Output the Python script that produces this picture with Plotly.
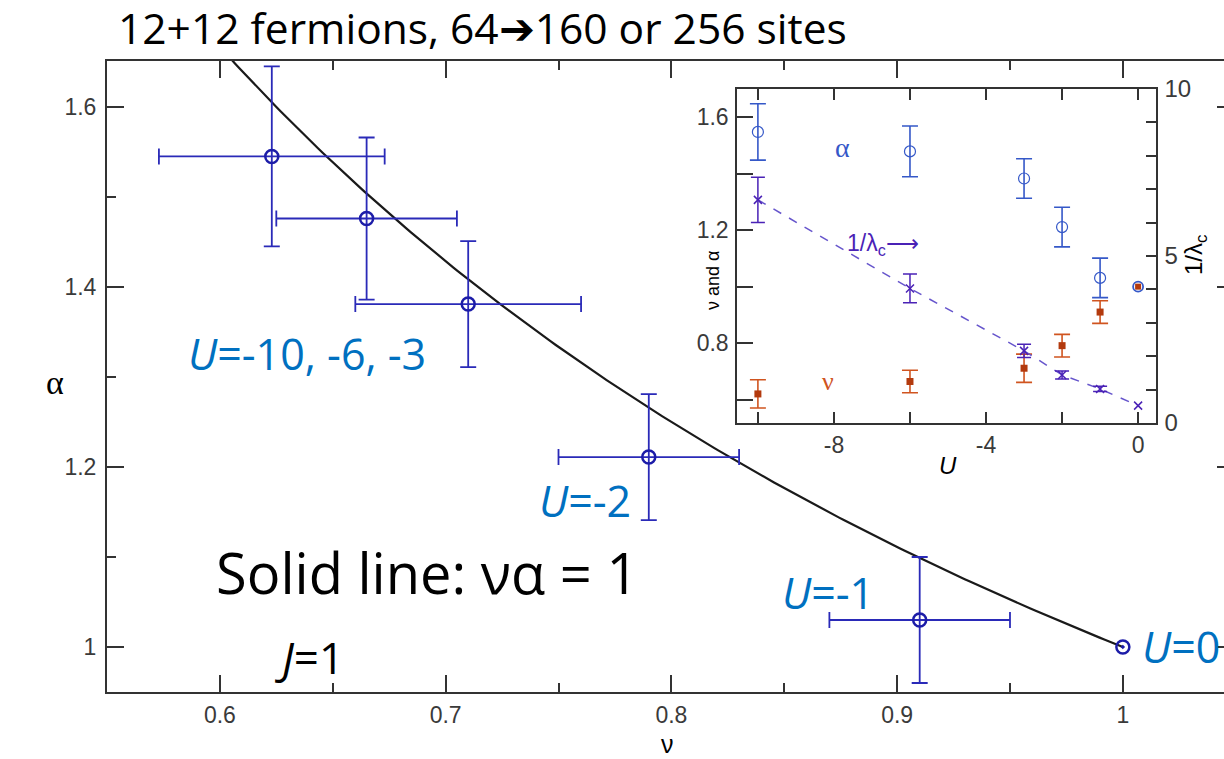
import numpy as np
import plotly.graph_objects as go

# ---------------- data ----------------
# main panel: alpha vs nu for U = -10, -6, -3, -2, -1, 0
U_main = [-10, -6, -3, -2, -1, 0]
nu_main = [0.623, 0.665, 0.710, 0.790, 0.910, 1.000]
nu_err = [0.050, 0.040, 0.050, 0.040, 0.040, 0.0]
alpha_main = [1.545, 1.476, 1.381, 1.211, 1.030, 1.000]
alpha_err = [0.100, 0.090, 0.070, 0.070, 0.070, 0.0]

# inset: alpha, nu and 1/lambda_c vs U
U_inset = [-10, -6, -3, -2, -1, 0]
alpha_inset = [1.548, 1.479, 1.383, 1.211, 1.031, 1.000]
alpha_inset_err = [0.10, 0.09, 0.07, 0.07, 0.07, 0.0]
nu_inset = [0.620, 0.664, 0.711, 0.791, 0.910, 1.000]
nu_inset_err = [0.05, 0.04, 0.05, 0.04, 0.04, 0.0]
inv_lam = [6.68, 4.03, 2.16, 1.44, 1.02, 0.52]
inv_lam_err = [0.68, 0.43, 0.20, 0.12, 0.08, 0.0]

main_xticks = [0.6, 0.7, 0.8, 0.9, 1.0]
main_xticktext = ["0.6", "0.7", "0.8", "0.9", "1"]
main_yticks = [1.0, 1.2, 1.4, 1.6]
main_yticktext = ["1", "1.2", "1.4", "1.6"]

# theoretical line nu*alpha = 1
nu_line = np.linspace(0.59, 1.0, 200)
alpha_line = 1.0 / nu_line

# ---------------- styles ----------------
BLUE_TXT = "#0070C0"
MAIN_BLUE = "#1c1ca8"
ERR_BLUE = "#2a2ab8"
IN_BLUE = "#3558c8"
IN_RED = "#b33a0e"
IN_RED_ERR = "#d0541f"
IN_PURP = "#4a22b6"
TICKC = "#3a3a3a"
LINEC = "#333333"
CAL = "Open Sans"
ARIAL = "Liberation Sans"

fig = go.Figure()

# solid line
fig.add_trace(go.Scatter(x=nu_line, y=alpha_line, mode="lines",
                         line=dict(color="#1a1a1a", width=2.2),
                         showlegend=False, hoverinfo="skip"))

# main points with error bars (U != 0)
fig.add_trace(go.Scatter(
    x=nu_main[:5], y=alpha_main[:5], mode="markers",
    marker=dict(symbol="circle-open", size=13, color=MAIN_BLUE, line=dict(width=2.5)),
    error_x=dict(type="data", array=nu_err[:5], color=ERR_BLUE, thickness=1.8, width=8),
    error_y=dict(type="data", array=alpha_err[:5], color=ERR_BLUE, thickness=1.8, width=8),
    showlegend=False))
# U = 0 point
fig.add_trace(go.Scatter(
    x=nu_main[5:], y=alpha_main[5:], mode="markers",
    marker=dict(symbol="circle-open-dot", size=13, color=MAIN_BLUE, line=dict(width=2.5)),
    showlegend=False))

# invisible trace for right-side tick axis
fig.add_trace(go.Scatter(x=[0.7], y=[1.2], yaxis="y4", mode="markers",
                         marker=dict(opacity=0), showlegend=False, hoverinfo="skip"))

# ---------------- inset ----------------
fig.add_trace(go.Scatter(
    x=U_inset, y=inv_lam, xaxis="x2", yaxis="y3", mode="lines",
    line=dict(color="#6655cc", width=1.5, dash="dash"), showlegend=False))
fig.add_trace(go.Scatter(
    x=U_inset[:5], y=inv_lam[:5], xaxis="x2", yaxis="y3", mode="markers",
    marker=dict(symbol="x-thin-open", size=8, color=IN_PURP, line=dict(width=1.5, color=IN_PURP)),
    error_y=dict(type="data", array=inv_lam_err[:5], color=IN_PURP, thickness=1.5, width=7),
    showlegend=False))
fig.add_trace(go.Scatter(
    x=U_inset[5:], y=inv_lam[5:], xaxis="x2", yaxis="y3", mode="markers",
    marker=dict(symbol="x-thin-open", size=8, color=IN_PURP, line=dict(width=1.5, color=IN_PURP)),
    showlegend=False))
fig.add_trace(go.Scatter(
    x=U_inset[:5], y=alpha_inset[:5], xaxis="x2", yaxis="y2", mode="markers",
    marker=dict(symbol="circle-open", size=11, color=IN_BLUE, line=dict(width=1.2)),
    error_y=dict(type="data", array=alpha_inset_err[:5], color=IN_BLUE, thickness=1.6, width=8),
    showlegend=False))
fig.add_trace(go.Scatter(
    x=U_inset[5:], y=alpha_inset[5:], xaxis="x2", yaxis="y2", mode="markers",
    marker=dict(symbol="circle-open", size=10, color=IN_BLUE, line=dict(width=1.8)),
    showlegend=False))
fig.add_trace(go.Scatter(
    x=U_inset[:5], y=nu_inset[:5], xaxis="x2", yaxis="y2", mode="markers",
    marker=dict(symbol="square", size=7, color=IN_RED),
    error_y=dict(type="data", array=nu_inset_err[:5], color=IN_RED_ERR, thickness=1.6, width=8),
    showlegend=False))
fig.add_trace(go.Scatter(
    x=U_inset[5:], y=nu_inset[5:], xaxis="x2", yaxis="y2", mode="markers",
    marker=dict(symbol="square", size=6, color=IN_RED),
    showlegend=False))

tickfont_main = dict(family=ARIAL, size=23, color=TICKC)
tickfont_in = dict(family=ARIAL, size=23, color=TICKC)

fig.update_layout(
    width=1224, height=759,
    margin=dict(l=107, r=0, t=61, b=67),
    paper_bgcolor="white", plot_bgcolor="white",
    showlegend=False,
    xaxis=dict(range=[0.55, 1.0448], domain=[0, 1], anchor="y",
               tickvals=main_xticks, ticktext=main_xticktext,
               ticks="inside", ticklen=17, tickwidth=2, tickcolor=LINEC,
               minor=dict(tickvals=[0.55, 0.65, 0.75, 0.85, 0.95, 1.05], ticks="inside",
                          ticklen=9, tickwidth=2, tickcolor=LINEC),
               showline=True, linecolor=LINEC, linewidth=2, mirror="ticks",
               showgrid=False, zeroline=False, tickfont=tickfont_main,
               ticklabelstandoff=1, automargin=False),
    yaxis=dict(range=[0.95, 1.651], domain=[0, 1], anchor="x",
               tickvals=main_yticks, ticktext=main_yticktext,
               ticks="inside", ticklen=17, tickwidth=2, tickcolor=LINEC,
               minor=dict(tickvals=[1.1, 1.3, 1.5], ticks="inside",
                          ticklen=9, tickwidth=2, tickcolor=LINEC),
               showline=True, linecolor=LINEC, linewidth=2, mirror=False,
               showgrid=False, zeroline=False, tickfont=tickfont_main,
               ticklabelstandoff=4, automargin=False),
    yaxis4=dict(range=[0.95, 1.651], overlaying="y", side="right", anchor="x",
                tickvals=main_yticks, ticks="inside", ticklen=7, tickwidth=2,
                tickcolor=LINEC, showticklabels=False, showline=False,
                showgrid=False, zeroline=False),
    xaxis2=dict(domain=[0.5640, 0.9391], anchor="y2", range=[-10.55, 0.47],
                tickvals=[-10, -8, -6, -4, -2, 0], ticktext=["", "-8", "", "-4", "", "0"],
                ticks="inside", ticklen=11, tickwidth=1.5, tickcolor=LINEC,
                showline=True, linecolor=LINEC, linewidth=1.5, mirror="ticks",
                showgrid=False, zeroline=False, tickfont=tickfont_in,
                ticklabelstandoff=1, automargin=False),
    yaxis2=dict(domain=[0.4263, 0.9556], anchor="x2", range=[0.517, 1.70],
                tickvals=[0.6, 0.8, 1.0, 1.2, 1.4, 1.6],
                ticktext=["", "0.8", "", "1.2", "", "1.6"],
                ticks="inside", ticklen=16, tickwidth=1.5, tickcolor=LINEC,
                showline=True, linecolor=LINEC, linewidth=1.5, mirror=False,
                showgrid=False, zeroline=False, tickfont=tickfont_in,
                ticklabelstandoff=2, automargin=False),
    yaxis3=dict(overlaying="y2", side="right", anchor="x2", range=[0, 10],
                tickvals=list(range(0, 11)),
                ticktext=["0", "", "", "", "", "5", "", "", "", "", "10"],
                ticks="inside", ticklen=10, tickwidth=1.5, tickcolor=LINEC,
                showline=True, linecolor=LINEC, linewidth=1.5,
                showgrid=False, zeroline=False, tickfont=dict(family=ARIAL, size=24, color=TICKC),
                ticklabelstandoff=2, automargin=False),
)

ann = []
def A(text, x, y, size, color="black", family=CAL, xanchor="left", xref="x", yref="y", angle=0):
    ann.append(dict(text=text, x=x, y=y, xref=xref, yref=yref, showarrow=False,
                    xanchor=xanchor, yanchor="middle", textangle=angle,
                    font=dict(family=family, size=size, color=color)))

# title
A("12+12 fermions, 64\u2794160 or 256 sites", 0.0080, 1.0523, 42.5, xref="paper", yref="paper")
# main annotations
A("<i>U</i>=-10, -6, -3", 0.5850, 1.3256, 43, BLUE_TXT)
A("<i>U</i>=-2", 0.7405, 1.1633, 43, BLUE_TXT)
A("<i>U</i>=-1", 0.8480, 1.060, 43, BLUE_TXT)
A("<i>U</i>=0", 1.0075, 1.000, 43, BLUE_TXT)
A("Solid line: \u03bd\u03b1 = 1", 0.5975, 1.0833, 56)
A("<i>J</i>=1", 0.6235, 0.9889, 44)
# axis titles
A("\u03bd", 0.5022, -0.0824, 25, family="Liberation Sans", xanchor="center", xref="paper", yref="paper")
A("\u03b1", -0.0466, 0.4897, 34, family="Liberation Serif", xanchor="center", xref="paper", yref="paper")
# inset titles
A("\u03bd and \u03b1", 0.5425, 0.653, 18, family=ARIAL, xanchor="center", xref="paper", yref="paper", angle=-90)
A("1/\u03bb<sub>c</sub>", 0.9740, 0.6925, 24, family=ARIAL, xanchor="center", xref="paper", yref="paper", angle=-90)
A("<i>U</i>", 0.7529, 0.3582, 24, family=ARIAL, xanchor="center", xref="paper", yref="paper")
# inset labels
A("\u03b1", -7.77, 1.4926, 28, IN_BLUE, family="Liberation Serif", xanchor="center", xref="x2", yref="y2")
A("\u03bd", -8.16, 0.663, 26, IN_RED_ERR, family="Liberation Serif", xanchor="center", xref="x2", yref="y2")
A("1/\u03bb<sub>c</sub>\u27f6", -6.71, 1.149, 23, IN_PURP, family=ARIAL, xanchor="center", xref="x2", yref="y2")

fig.update_layout(annotations=ann)
fig.write_html("out.html")
